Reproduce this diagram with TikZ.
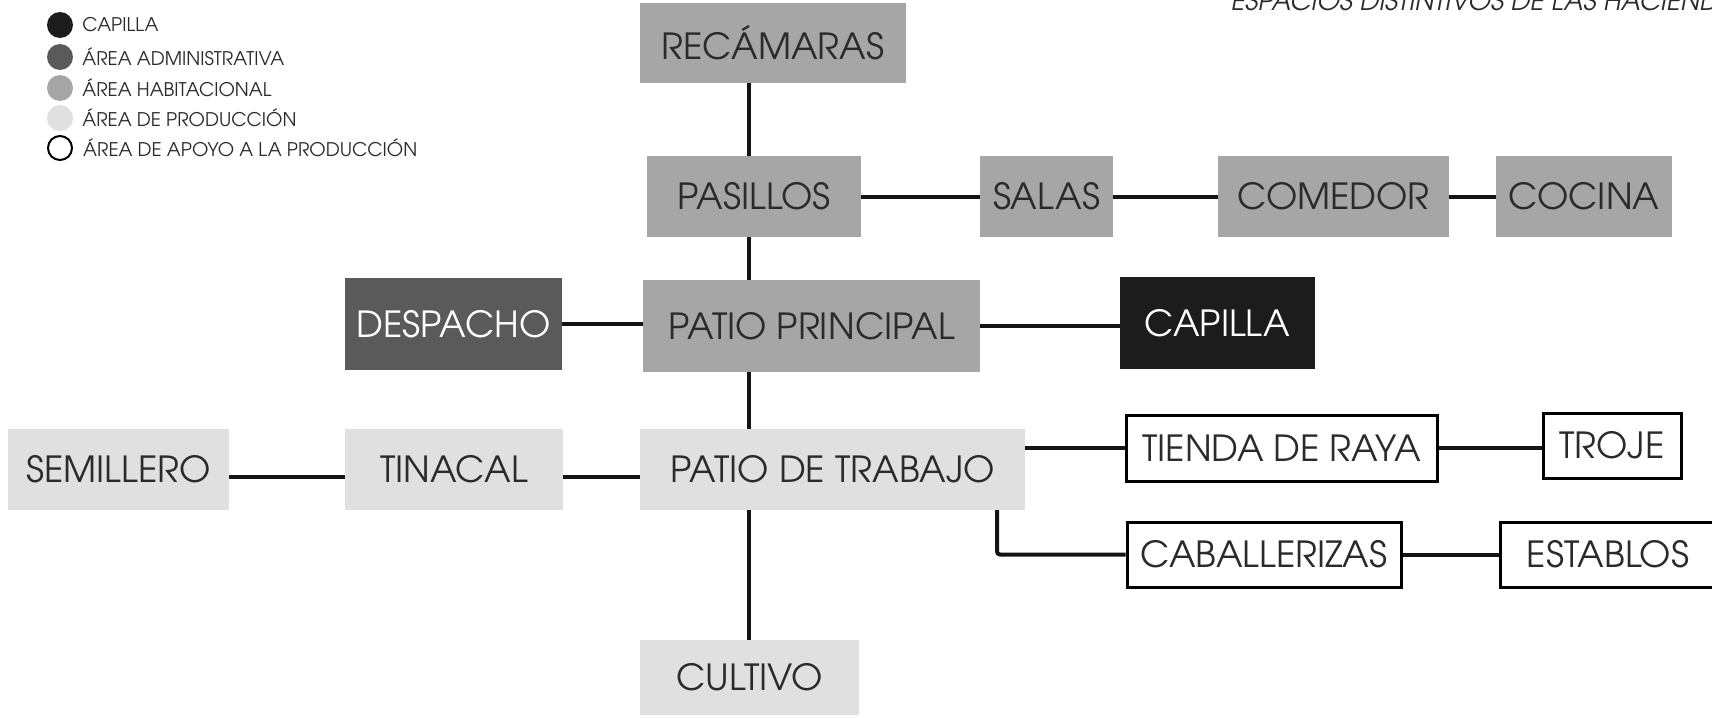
\documentclass[tikz,border=0pt]{standalone}
\usepackage{fontspec}
\IfFontExistsTF{texgyreadventor-regular.otf}{%
  \setmainfont{texgyreadventor}[Extension=.otf,UprightFont=*-regular,ItalicFont=*-italic,BoldFont=*-bold,BoldItalicFont=*-bolditalic]}{%
  \setmainfont{Poppins}}
\definecolor{habfill}{HTML}{A6A6A6}
\definecolor{prodfill}{HTML}{E0E0E0}
\definecolor{admfill}{HTML}{5A5A5A}
\definecolor{capfill}{HTML}{1C1C1C}
\definecolor{txt}{HTML}{2A2A2A}
\tikzset{
  box/.style={rectangle, inner sep=0pt, text=txt, font=\fontsize{36}{40}\selectfont},
  sz/.style 2 args={minimum width=#1pt, minimum height=#2pt},
  hab/.style={box, fill=habfill},
  prod/.style={box, fill=prodfill},
  adm/.style={box, fill=admfill, text=white},
  capi/.style={box, fill=capfill, text=white},
  apoyo/.style={box, fill=white, draw=black, line width=3pt},
  link/.style={line width=4pt, draw=black!92},
  legdot/.style={circle, inner sep=0pt, minimum size=26pt},
  legtext/.style={anchor=west, inner sep=0pt, text=txt, font=\fontsize{18.8}{22}\selectfont}
}
\begin{document}
\begin{tikzpicture}[x=1pt,y=-1pt]
\useasboundingbox (0,0) rectangle (1712,717);
\clip (0,0) rectangle (1712,717);
\fill[white] (0,0) rectangle (1712,717);

% title (cut at top edge, as in the reference)
\node[anchor=base west, inner sep=0pt, text=txt, font=\itshape\fontsize{26}{30}\selectfont] (title) at (1231,11) {ESPACIOS DISTINTIVOS DE LAS HACIENDAS};

% legend
\node[legdot, fill=capfill] (l1) at (60,25) {};
\node[legtext] (l1t) at ([xshift=9pt]l1.east) {CAPILLA};
\node[legdot, fill=admfill] (l2) at (60,57) {};
\node[legtext] (l2t) at ([xshift=9pt]l2.east) {ÁREA ADMINISTRATIVA};
\node[legdot, fill=habfill] (l3) at (60,88) {};
\node[legtext] (l3t) at ([xshift=9pt]l3.east) {ÁREA HABITACIONAL};
\node[legdot, fill=prodfill] (l4) at (60,118) {};
\node[legtext] (l4t) at ([xshift=9pt]l4.east) {ÁREA DE PRODUCCIÓN};
\node[legdot, fill=white, draw=black, line width=2pt, minimum size=24pt] (l5) at (60,148) {};
\node[legtext] (l5t) at ([xshift=10pt]l5.east) {ÁREA DE APOYO A LA PRODUCCIÓN};

% boxes
\node[hab, sz={266}{80}] (rec) at (773,43) {RECÁMARAS};
\node[hab, sz={214}{81}] (pas) at (754,196.5) {PASILLOS};
\node[hab, sz={133}{81}] (sal) at (1046.5,196.5) {SALAS};
\node[hab, sz={231}{81}] (com) at (1333.5,196.5) {COMEDOR};
\node[hab, sz={176}{81}] (coc) at (1584,196.5) {COCINA};
\node[adm, sz={217}{92}] (des) at (453.5,324) {DESPACHO};
\node[hab, sz={337}{92}] (pp) at (811.5,326) {PATIO PRINCIPAL};
\node[capi, sz={195}{92}] (cap) at (1217.5,323) {CAPILLA};
\node[prod, sz={221}{81}] (sem) at (118.5,469.5) {SEMILLERO};
\node[prod, sz={218}{81}] (tin) at (454,469.5) {TINACAL};
\node[prod, sz={385}{81}] (pt) at (832.5,469.5) {PATIO DE TRABAJO};
\node[prod, sz={219}{75}] (cul) at (749.5,677.5) {CULTIVO};
\node[apoyo, sz={311}{66}] (tie) at (1281.5,448) {TIENDA DE RAYA};
\node[apoyo, sz={138}{65}] (tro) at (1612,445.5) {TROJE};
\node[apoyo, sz={274}{65}] (cab) at (1264,554.5) {CABALLERIZAS};
\node[apoyo, sz={216}{65}] (est) at (1608,554.5) {ESTABLOS};

% connectors
\coordinate (vx) at (749,0);
\coordinate (ex) at (997,0);
\draw[link] (rec.south -| vx) -- (pas.north -| vx);
\draw[link] (pas.south -| vx) -- (pp.north -| vx);
\draw[link] (pp.south -| vx) -- (pt.north -| vx);
\draw[link] (pt.south -| vx) -- (cul.north -| vx);
\draw[link] (pas.east) -- (sal.west);
\draw[link] (sal.east) -- (com.west);
\draw[link] (com.east) -- (coc.west);
\draw[link] (des.east) -- (des.east -| pp.west);
\draw[link] (pp.east) -- (pp.east -| cap.west);
\draw[link] ([yshift=-7.5pt]sem.east) -- ([yshift=-7.5pt]sem.east -| tin.west);
\draw[link] ([yshift=-7.5pt]tin.east) -- ([yshift=-7.5pt]tin.east -| pt.west);
\draw[link] (pt.east |- tie.west) -- (tie.west);
\draw[link] (tie.east) -- (tie.east -| tro.west);
\draw[link, rounded corners=3pt] (pt.south -| ex) -- (ex |- cab.west) -- (cab.west);
\draw[link] (cab.east) -- (est.west);
\end{tikzpicture}
\end{document}
